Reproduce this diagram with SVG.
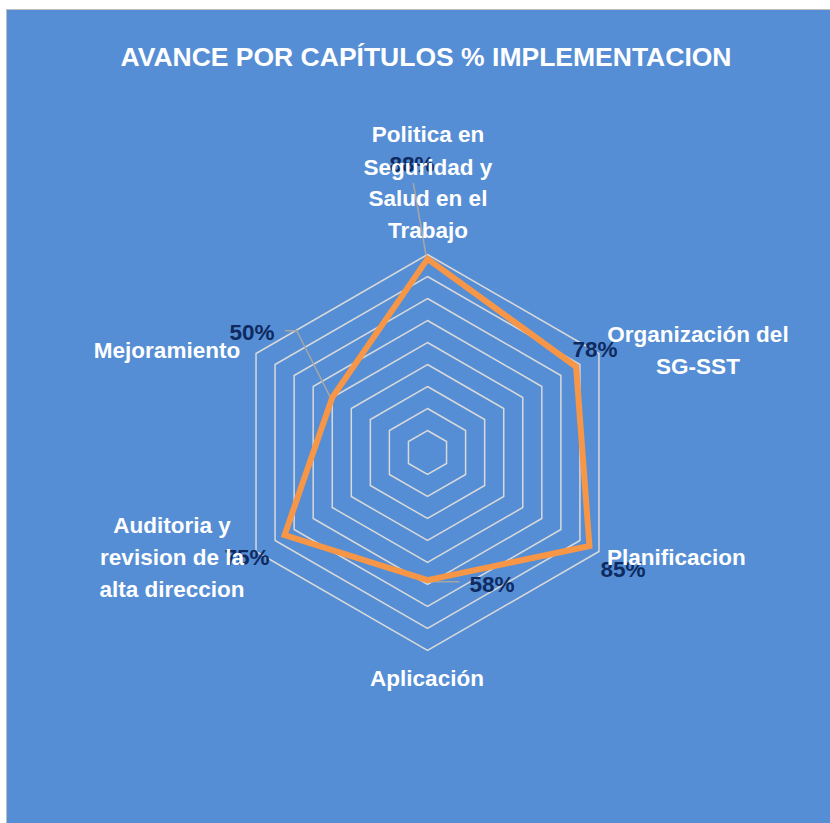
<svg xmlns="http://www.w3.org/2000/svg" width="830" height="823" viewBox="0 0 830 823">
<style>
.grid{fill:none;stroke:#D9D9D9;stroke-width:1.5}
.cat{font-family:"Liberation Sans",Arial,sans-serif;font-weight:bold;font-size:22.5px;fill:#FFFFFF;text-anchor:middle}
.cat-start{font-family:"Liberation Sans",Arial,sans-serif;font-weight:bold;font-size:22.5px;fill:#FFFFFF;text-anchor:start}
.val{font-family:"Liberation Sans",Arial,sans-serif;font-weight:bold;font-size:22.5px;fill:#0E2A60;text-anchor:middle}
.lead{fill:none;stroke:#A6A6A6;stroke-width:1.5}
</style>
<rect x="0" y="0" width="830" height="823" fill="#FFFFFF"/>
<rect x="6.5" y="9.5" width="830" height="820" fill="#558ED5" stroke="#BFBFBF" stroke-width="1"/>
<text x="426" y="66" font-family="Liberation Sans, Arial, sans-serif" font-weight="bold" font-size="26.5" fill="#FFFFFF" text-anchor="middle">AVANCE POR CAPÍTULOS % IMPLEMENTACION</text>
<g id="grid">
<polygon class="grid" points="427.5,430.5 446.55,441.5 446.55,463.5 427.5,474.5 408.45,463.5 408.45,441.5"/>
<polygon class="grid" points="427.5,408.5 465.61,430.5 465.61,474.5 427.5,496.5 389.39,474.5 389.39,430.5"/>
<polygon class="grid" points="427.5,386.5 484.66,419.5 484.66,485.5 427.5,518.5 370.34,485.5 370.34,419.5"/>
<polygon class="grid" points="427.5,364.5 503.71,408.5 503.71,496.5 427.5,540.5 351.29,496.5 351.29,408.5"/>
<polygon class="grid" points="427.5,342.5 522.76,397.5 522.76,507.5 427.5,562.5 332.24,507.5 332.24,397.5"/>
<polygon class="grid" points="427.5,320.5 541.82,386.5 541.82,518.5 427.5,584.5 313.18,518.5 313.18,386.5"/>
<polygon class="grid" points="427.5,298.5 560.87,375.5 560.87,529.5 427.5,606.5 294.13,529.5 294.13,375.5"/>
<polygon class="grid" points="427.5,276.5 579.92,364.5 579.92,540.5 427.5,628.5 275.08,540.5 275.08,364.5"/>
<polygon class="grid" points="427.5,254.5 598.97,353.5 598.97,551.5 427.5,650.5 256.03,551.5 256.03,353.5"/>
</g>
<g id="connectors">
<polyline class="lead" points="413.3,183 426,255"/>
<polyline class="lead" points="285,330.7 296.7,330.7 330,396.7"/>
<polyline class="lead" points="427,581.7 459.3,581.7"/>
</g>
<g id="series">
<polygon points="427.5,258.9 576.11,366.7 589.45,546 427.5,580.1 284.61,535 332.24,397.5" fill="none" stroke="#F79646" stroke-width="6" stroke-linejoin="miter"/>
</g>
<g id="n-politica">
<text class="val" x="412" y="172">88%</text>
<text class="cat" x="428" y="142">Politica en</text>
<text class="cat" x="428" y="175">Seguridad y</text>
<text class="cat" x="428" y="206">Salud en el</text>
<text class="cat" x="428" y="238">Trabajo</text>
</g>
<g id="n-organizacion">
<text class="cat" x="698" y="342">Organización del</text>
<text class="cat" x="698" y="374">SG-SST</text>
<text class="val" x="595" y="357">78%</text>
</g>
<g id="n-planificacion">
<text class="val" x="623" y="577">85%</text>
<text class="cat-start" x="607" y="565">Planificacion</text>
</g>
<g id="n-aplicacion">
<text class="val" x="492" y="592">58%</text>
<text class="cat" x="427" y="686">Aplicación</text>
</g>
<g id="n-auditoria">
<text class="val" x="247" y="565">75%</text>
<text class="cat" x="172" y="533">Auditoria y</text>
<text class="cat" x="172" y="565">revision de la</text>
<text class="cat" x="172" y="597">alta direccion</text>
</g>
<g id="n-mejoramiento">
<text class="val" x="252" y="340">50%</text>
<text class="cat" x="167" y="358">Mejoramiento</text>
</g>
</svg>
